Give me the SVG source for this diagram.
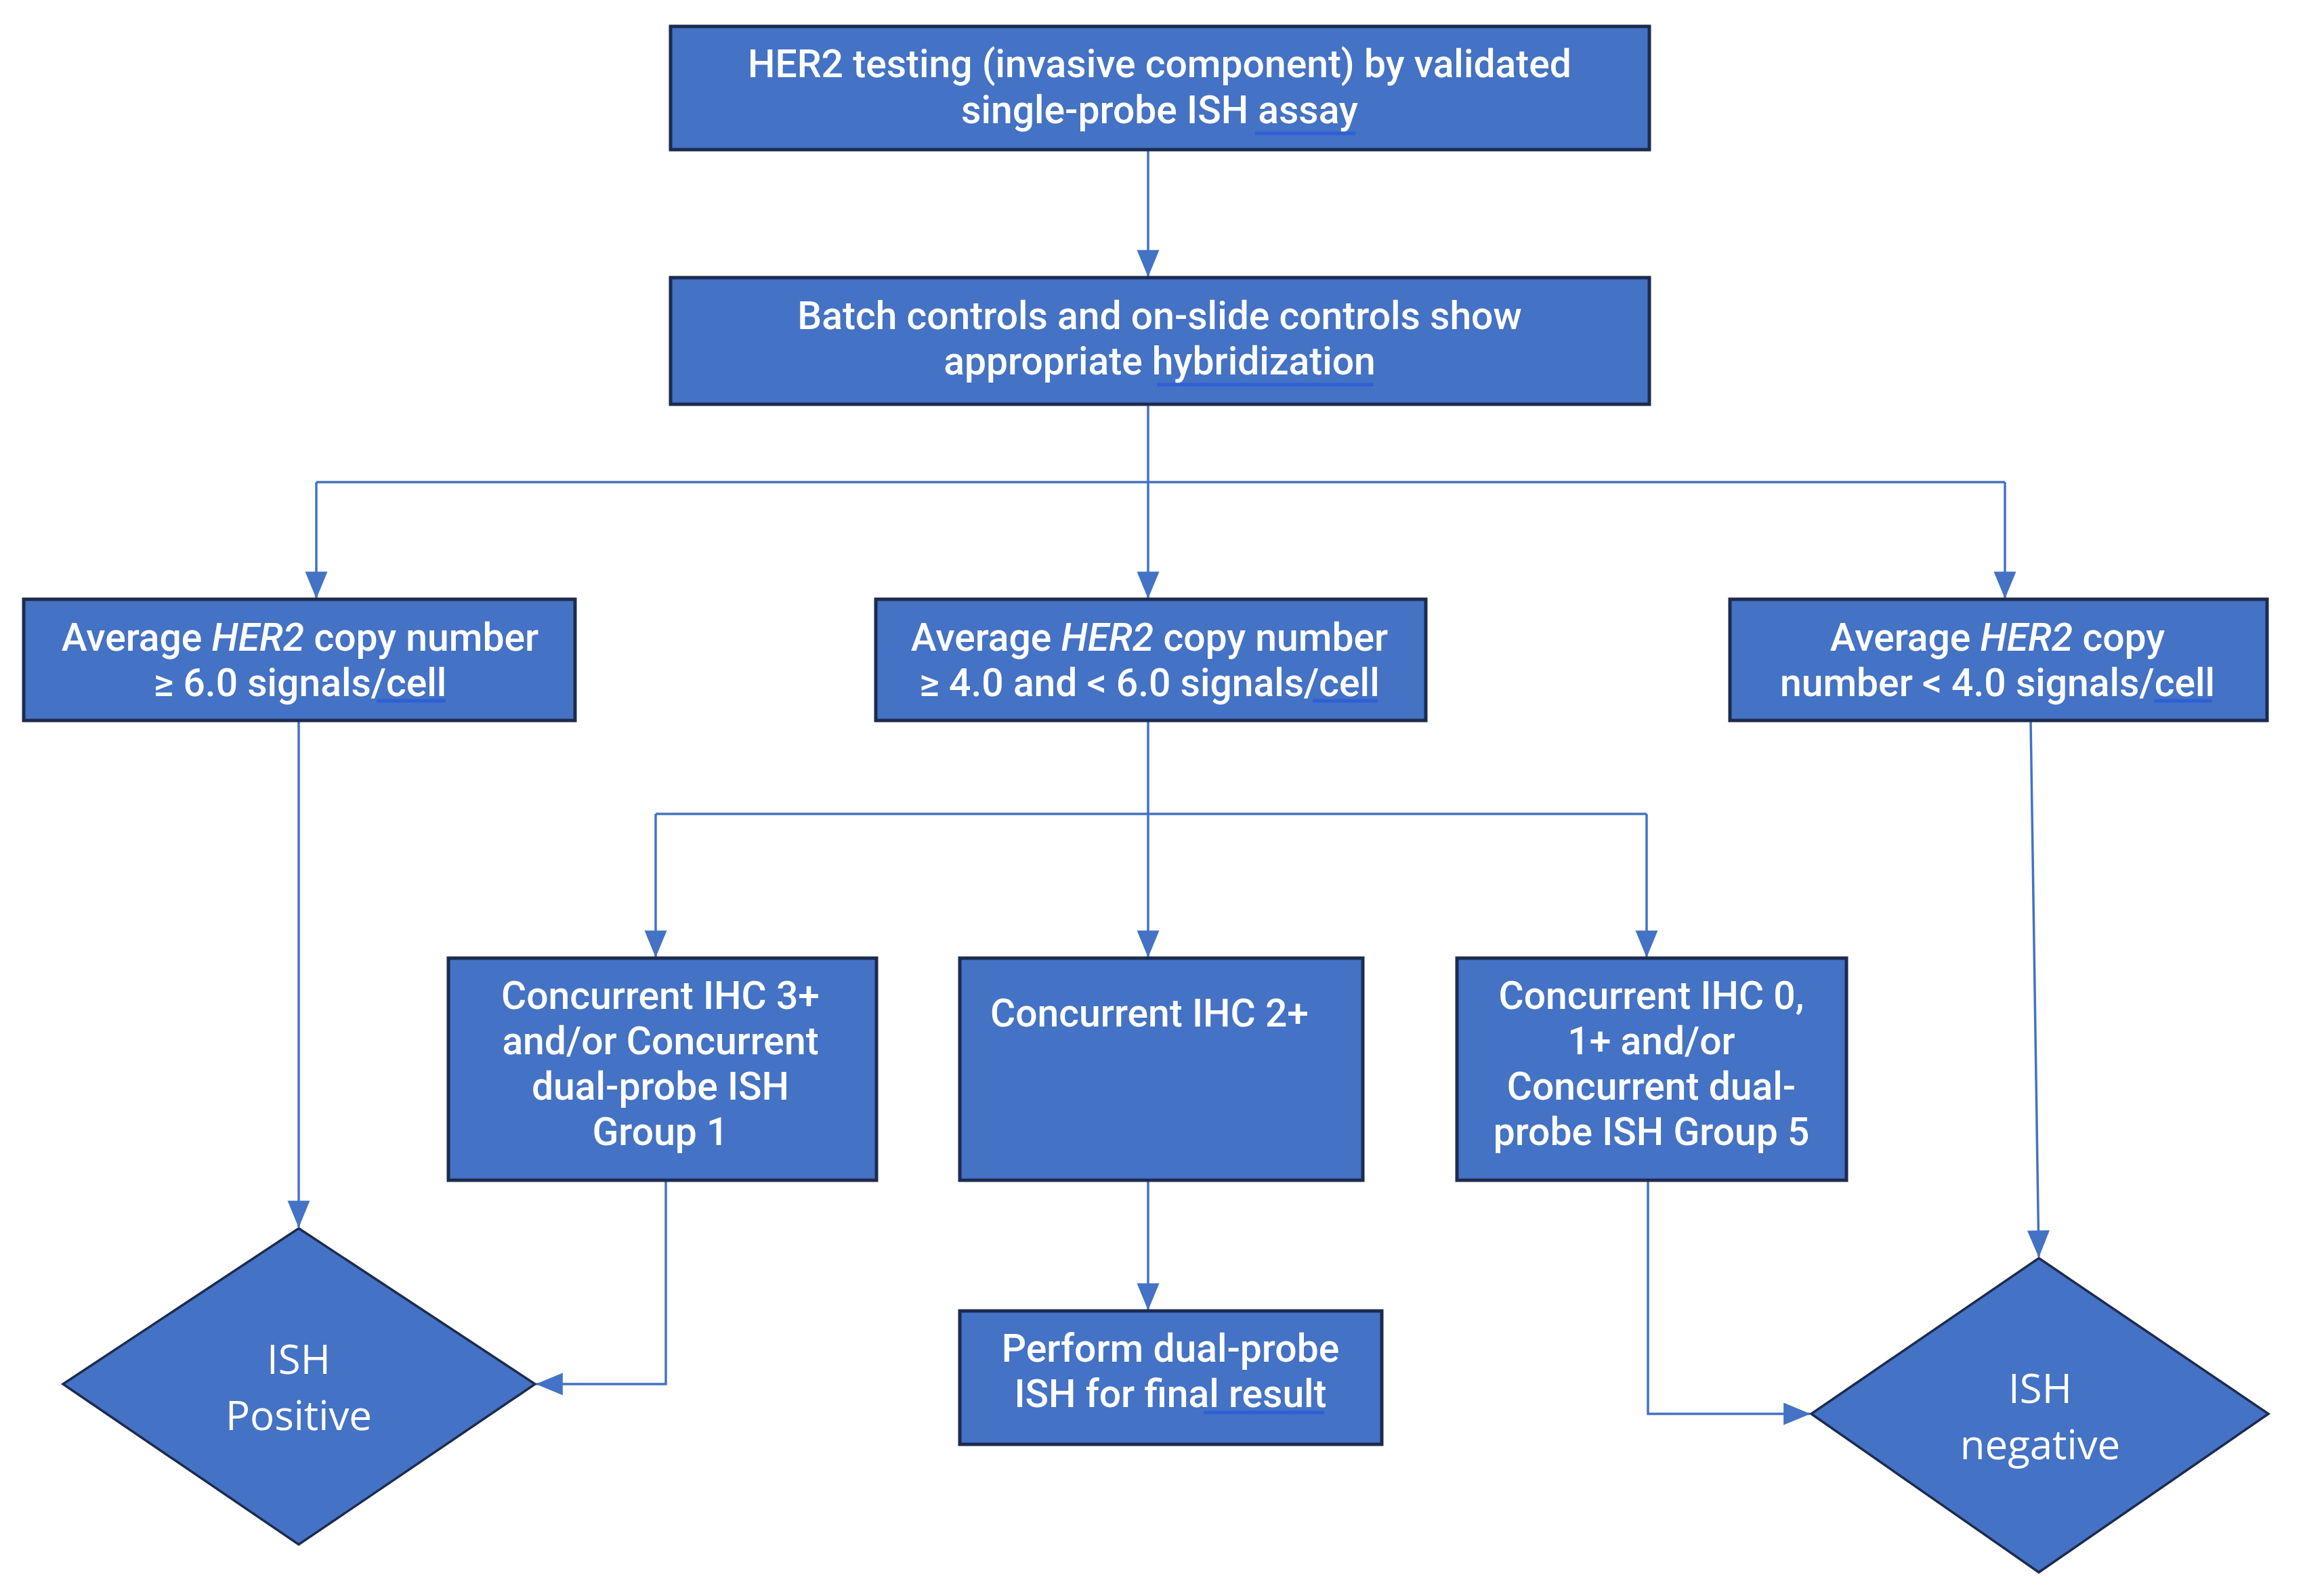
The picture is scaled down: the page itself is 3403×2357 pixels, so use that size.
<svg xmlns="http://www.w3.org/2000/svg" width="3403" height="2357" viewBox="0 0 3403 2357">
<defs>
<style>
.box{fill:#4472C4;stroke:#1C2B4E;stroke-width:5}
.dia{fill:#4472C4;stroke:#1C2B4E;stroke-width:3.5}
.t{font-family:Roboto,"Liberation Sans",sans-serif;font-size:57px;font-weight:500;fill:#FFFFFF;text-anchor:middle}
.d{font-family:"Open Sans","Noto Sans",sans-serif;font-size:60px;fill:#FFFFFF;text-anchor:middle}
.c{fill:none;stroke:#4472C4;stroke-width:3.5}
.u{stroke:#2F5FD6;stroke-width:5}
</style>
<marker id="ah" markerUnits="userSpaceOnUse" markerWidth="40" markerHeight="40" viewBox="0 0 34 28" refX="33" refY="14" orient="auto">
<path d="M0,0 L34,14 L0,28 Z" fill="#4472C4"/>
</marker>
</defs>
<rect width="3403" height="2357" fill="#FFFFFF"/>
<g id="connectors">
<path class="c" d="M1695,221 V408" marker-end="url(#ah)"/>
<path class="c" d="M1695,597 V712 M467,712 H2960"/>
<path class="c" d="M467,712 V883" marker-end="url(#ah)"/>
<path class="c" d="M1695,712 V883" marker-end="url(#ah)"/>
<path class="c" d="M2960,712 V883" marker-end="url(#ah)"/>
<path class="c" d="M441,1064 V1812" marker-end="url(#ah)"/>
<path class="c" d="M1695,1064 V1202 M968,1202 H2431"/>
<path class="c" d="M968,1202 V1413" marker-end="url(#ah)"/>
<path class="c" d="M1695,1202 V1413" marker-end="url(#ah)"/>
<path class="c" d="M2431,1202 V1413" marker-end="url(#ah)"/>
<path class="c" d="M983,1743 V2044 H792" marker-end="url(#ah)"/>
<path class="c" d="M1695,1743 V1934" marker-end="url(#ah)"/>
<path class="c" d="M2433,1743 V2088 H2672" marker-end="url(#ah)"/>
<path class="c" d="M2998,1064 L3010,1856" marker-end="url(#ah)"/>
</g>
<g id="n1">
<rect class="box" x="990" y="39" width="1445" height="182"/>
<text class="t" x="1712" y="114">HER2 testing (invasive component) by validated</text>
<text class="t" x="1712" y="182">single-probe ISH assay</text>
<line class="u" x1="1853" y1="197" x2="2001" y2="197"/>
</g>
<g id="n2">
<rect class="box" x="990" y="410" width="1445" height="187"/>
<text class="t" x="1712" y="486">Batch controls and on-slide controls show</text>
<text class="t" x="1712" y="553">appropriate hybridization</text>
<line class="u" x1="1708" y1="568" x2="2027" y2="568"/>
</g>
<g id="n3">
<rect class="box" x="35" y="885" width="814" height="179"/>
<text class="t" x="443" y="961">Average <tspan font-style="italic">HER2</tspan> copy number</text>
<text class="t" x="443" y="1028">≥ 6.0 signals/cell</text>
<line class="u" x1="556" y1="1035" x2="658" y2="1035"/>
</g>
<g id="n4">
<rect class="box" x="1293" y="885" width="812" height="179"/>
<text class="t" x="1697" y="961">Average <tspan font-style="italic">HER2</tspan> copy number</text>
<text class="t" x="1697" y="1028">≥ 4.0 and &lt; 6.0 signals/cell</text>
<line class="u" x1="1938" y1="1035" x2="2034" y2="1035"/>
</g>
<g id="n5">
<rect class="box" x="2554" y="885" width="793" height="179"/>
<text class="t" x="2949" y="961">Average <tspan font-style="italic">HER2</tspan> copy</text>
<text class="t" x="2949" y="1028">number &lt; 4.0 signals/cell</text>
<line class="u" x1="3180" y1="1035" x2="3266" y2="1035"/>
</g>
<g id="n6">
<rect class="box" x="662" y="1415" width="632" height="328"/>
<text class="t" x="975" y="1490">Concurrent IHC 3+</text>
<text class="t" x="975" y="1557">and/or Concurrent</text>
<text class="t" x="975" y="1624">dual-probe ISH</text>
<text class="t" x="975" y="1691">Group 1</text>
</g>
<g id="n7">
<rect class="box" x="1417" y="1415" width="595" height="328"/>
<text class="t" x="1697" y="1516">Concurrent IHC 2+</text>
</g>
<g id="n8">
<rect class="box" x="2151" y="1415" width="575" height="328"/>
<text class="t" x="2438" y="1490">Concurrent IHC 0,</text>
<text class="t" x="2438" y="1557">1+ and/or</text>
<text class="t" x="2438" y="1624">Concurrent dual-</text>
<text class="t" x="2438" y="1691">probe ISH Group 5</text>
</g>
<g id="n9">
<rect class="box" x="1417" y="1936" width="623" height="197"/>
<text class="t" x="1728" y="2011">Perform dual-probe</text>
<text class="t" x="1728" y="2078">ISH for final result</text>
<line class="u" x1="1777" y1="2086" x2="1955" y2="2086"/>
</g>
<g id="n10">
<polygon class="dia" points="441,1814 790,2044 441,2281 93,2044"/>
<text class="d" x="441" y="2029">ISH</text>
<text class="d" x="441" y="2112">Positive</text>
</g>
<g id="n11">
<polygon class="dia" points="3010,1858 3349,2088 3010,2322 2674,2088"/>
<text class="d" x="3012" y="2072">ISH</text>
<text class="d" x="3012" y="2155">negative</text>
</g>
</svg>
